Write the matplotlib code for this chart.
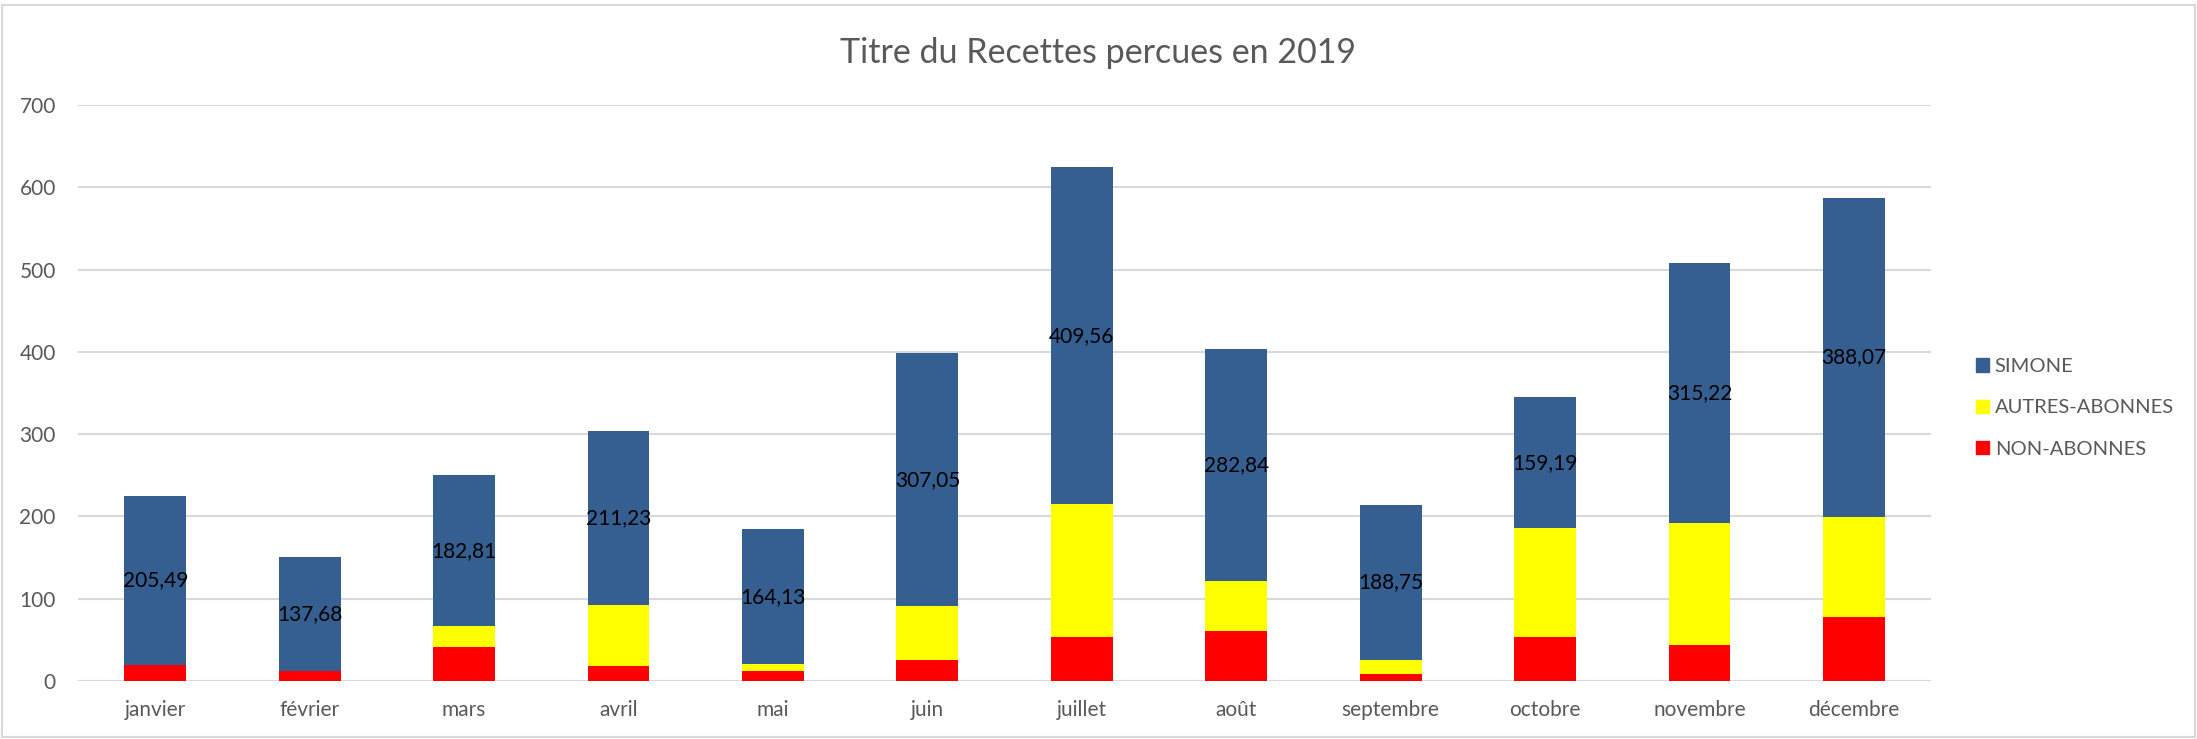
import matplotlib.pyplot as plt
from matplotlib.patches import Rectangle, Patch
import numpy as np

plt.rcParams['font.family'] = ['Lato', 'DejaVu Sans']

mois = ['janvier', 'février', 'mars', 'avril', 'mai', 'juin', 'juillet',
        'août', 'septembre', 'octobre', 'novembre', 'décembre']
non_abonnes = [19.6, 12.7, 41.2, 18.4, 11.8, 25.3, 53.5, 60.4, 9.0, 53.5, 44.1, 78.0]
autres_abonnes = [0.0, 0.0, 25.7, 73.9, 8.6, 65.7, 161.0, 60.6, 16.3, 132.0, 148.4, 121.3]
simone = [205.49, 137.68, 182.81, 211.23, 164.13, 307.05, 409.56, 282.84,
          188.75, 159.19, 315.22, 388.07]

c_simone = '#355F91'
c_autres = '#FFFF00'
c_non = '#FF0000'
gris = '#595959'

fig = plt.figure(figsize=(21.97, 7.39), dpi=100)
ax = fig.add_axes([0.0355, 0.0785, 0.8435, 0.7795])

x = np.arange(len(mois))
w = 0.4
base2 = np.array(non_abonnes) + np.array(autres_abonnes)
ax.bar(x, non_abonnes, w, color=c_non, zorder=3)
ax.bar(x, autres_abonnes, w, bottom=non_abonnes, color=c_autres, zorder=3)
ax.bar(x, simone, w, bottom=base2, color=c_simone, zorder=3)

for i, v in enumerate(simone):
    ax.text(x[i], base2[i] + v / 2, f'{v:.2f}'.replace('.', ','),
            ha='center', va='center', fontsize=15, color='black', zorder=4)

ax.set_xlim(-0.5, len(mois) - 0.5)
ax.set_ylim(0, 700)
ax.set_yticks(range(0, 701, 100))
ax.set_xticks(x)
ax.set_xticklabels(mois)
ax.tick_params(axis='both', length=0, labelsize=15, labelcolor=gris)
ax.tick_params(axis='x', pad=14)
ax.tick_params(axis='y', pad=16)
ax.grid(axis='y', color='#d9d9d9', linewidth=1.5, zorder=0)
for s in ax.spines.values():
    s.set_visible(False)

fig.text(0.5, 0.928, 'Titre du Recettes percues en 2019', ha='center', va='center',
         fontsize=24.5, color=gris)

handles = [Patch(color=c_simone), Patch(color=c_autres), Patch(color=c_non)]
fig.legend(handles, ['SIMONE', 'AUTRES-ABONNES', 'NON-ABONNES'],
           loc='center left', bbox_to_anchor=(0.891, 0.448), frameon=False,
           fontsize=14.5, labelcolor=gris, handlelength=0.65, handleheight=0.65,
           handletextpad=0.3, labelspacing=1.2)

fig.patches.append(Rectangle((0.001, 0.003), 0.998, 0.99, transform=fig.transFigure,
                             fill=False, edgecolor='#d9d9d9', linewidth=1.5))

fig.savefig('out.png', dpi=100, facecolor='white')
